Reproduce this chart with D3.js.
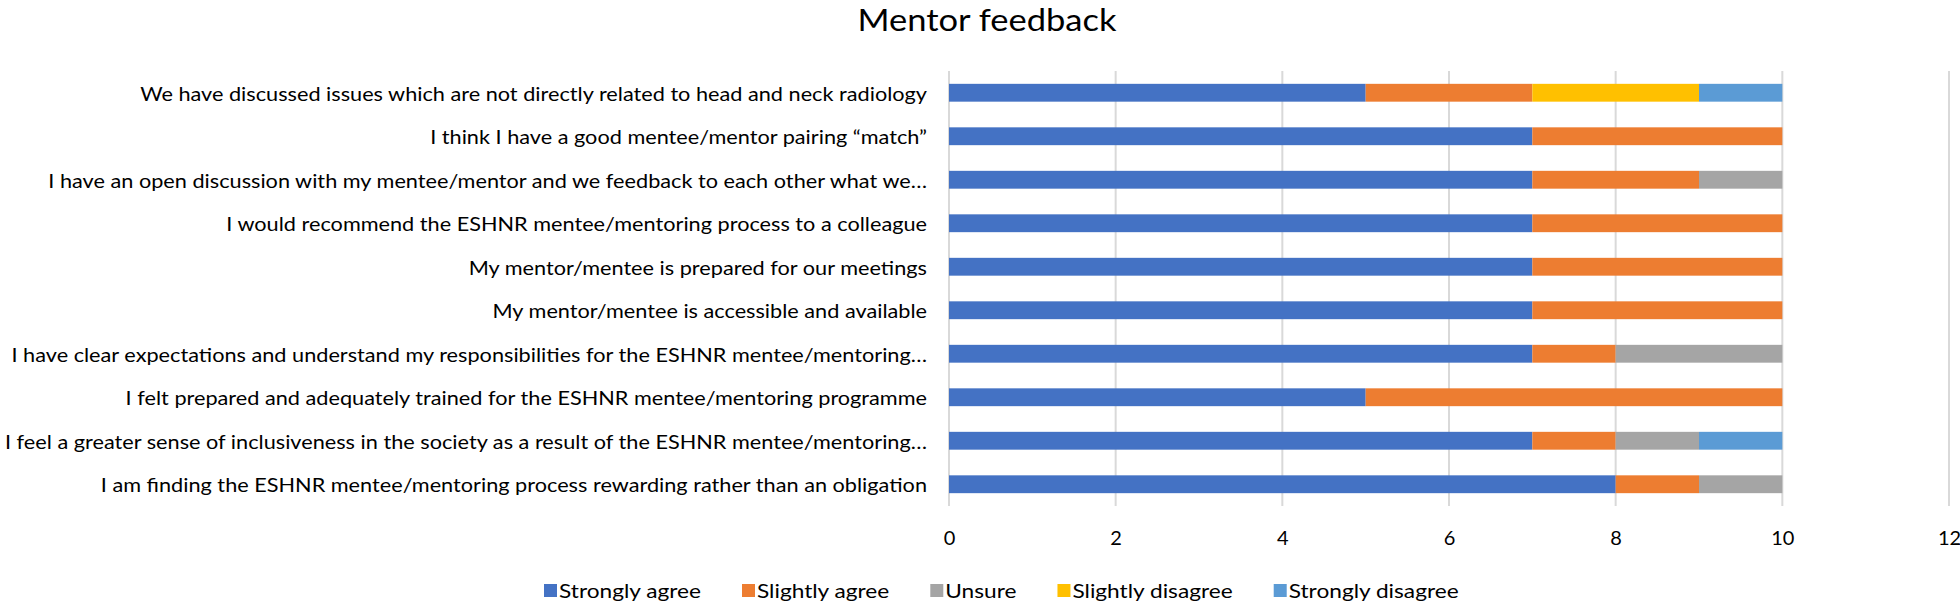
<!DOCTYPE html>
<html>
<head>
<meta charset="utf-8">
<script src="https://cdn.jsdelivr.net/npm/d3@7"></script>
<style>
  body { margin: 0; background: #fff; }
  svg { display: block; }
  text { font-family: Lato, "Open Sans", "Noto Sans", sans-serif; fill: #000; }
</style>
</head>
<body>
<svg id="svg" width="1960" height="604"></svg>
<script>
const categories = [
    "We have discussed issues which are not directly related to head and neck radiology",
    "I think I have a good mentee/mentor pairing \u201cmatch\u201d",
    "I have an open discussion with my mentee/mentor and we feedback to each other what we\u2026",
    "I would recommend the ESHNR mentee/mentoring process to a colleague",
    "My mentor/mentee is prepared for our meetings",
    "My mentor/mentee is accessible and available",
    "I have clear expectations and understand my responsibilities for the ESHNR mentee/mentoring\u2026",
    "I felt prepared and adequately trained for the ESHNR mentee/mentoring programme",
    "I feel a greater sense of inclusiveness in the society as a result of the ESHNR mentee/mentoring\u2026",
    "I am finding the ESHNR mentee/mentoring process rewarding rather than an obligation"
];
const seriesNames = ["Strongly agree", "Slightly agree", "Unsure", "Slightly disagree", "Strongly disagree"];
const stronglyAgree    = [5, 7, 7, 7, 7, 7, 7, 5, 7, 8];
const slightlyAgree    = [2, 3, 2, 3, 3, 3, 1, 5, 1, 1];
const unsure           = [0, 0, 1, 0, 0, 0, 2, 0, 1, 1];
const slightlyDisagree = [2, 0, 0, 0, 0, 0, 0, 0, 0, 0];
const stronglyDisagree = [1, 0, 0, 0, 0, 0, 0, 0, 1, 0];
const xTicks = [0, 2, 4, 6, 8, 10, 12];
const colors = ["#4472C4", "#ED7D31", "#A5A5A5", "#FFC000", "#5B9BD5"];

const svg = d3.select("#svg");
const plot = {left: 949, right: 1949, top: 71, bottom: 506};
const fontSize = 20;

// build table for the stack
const table = categories.map((c, i) => ({
    cat: c,
    "Strongly agree": stronglyAgree[i],
    "Slightly agree": slightlyAgree[i],
    "Unsure": unsure[i],
    "Slightly disagree": slightlyDisagree[i],
    "Strongly disagree": stronglyDisagree[i]
}));
const stacked = d3.stack().keys(seriesNames)(table);

const xScale = d3.scaleLinear().domain([0, 12]).range([plot.left, plot.right]);
const yScale = d3.scaleBand().domain(categories).range([plot.top, plot.bottom])
    .paddingInner(0.59).paddingOuter(0.295);
const color = d3.scaleOrdinal().domain(seriesNames).range(colors);

// the original font has other widths, so stretch text to fit
function measure(str, size) {
    const t = svg.append("text").style("font-size", size + "px").text(str);
    const w = t.node().getComputedTextLength();
    t.remove();
    return w;
}
const longest = d3.max(categories, c => measure(c, fontSize));
const squeeze = 922 / longest;
const legendStretch = 142 / measure(seriesNames[0], fontSize);
function narrow(sel, k) {
    sel.each(function() {
        const w = this.getComputedTextLength();
        d3.select(this).attr("textLength", w * k).attr("lengthAdjust", "spacingAndGlyphs");
    });
}

// title
svg.append("text")
    .attr("x", 987).attr("y", 19)
    .attr("text-anchor", "middle")
    .attr("dominant-baseline", "central")
    .style("font-size", "31px")
    .text("Mentor feedback")
    .attr("textLength", 259)
    .attr("lengthAdjust", "spacingAndGlyphs");

// gridlines
svg.append("g").selectAll("line")
    .data(xTicks)
    .join("line")
    .attr("x1", d => xScale(d)).attr("x2", d => xScale(d))
    .attr("y1", plot.top).attr("y2", plot.bottom)
    .attr("stroke", "#D9D9D9")
    .attr("stroke-width", 2);

// bars
svg.append("g").selectAll("g")
    .data(stacked)
    .join("g")
    .attr("fill", d => color(d.key))
    .selectAll("rect")
    .data(d => d.filter(s => s[1] > s[0]))
    .join("rect")
    .attr("x", d => xScale(d[0]))
    .attr("width", d => xScale(d[1]) - xScale(d[0]))
    .attr("y", d => yScale(d.data.cat))
    .attr("height", yScale.bandwidth());

// category labels
svg.append("g").selectAll("text")
    .data(categories)
    .join("text")
    .attr("x", plot.left - 22)
    .attr("y", d => yScale(d) + yScale.bandwidth() / 2)
    .attr("text-anchor", "end")
    .attr("dominant-baseline", "central")
    .style("font-size", fontSize + "px")
    .text(d => d)
    .call(narrow, squeeze);

// x axis labels
const xAxisCall = d3.axisBottom(xScale).tickValues(xTicks).tickSize(0).tickPadding(0);
const xAxis = svg.append("g")
    .attr("transform", "translate(0,537)")
    .call(xAxisCall);
xAxis.select(".domain").remove();
xAxis.attr("font-family", null).attr("font-size", null);
xAxis.selectAll("text")
    .attr("y", 0).attr("dy", null)
    .attr("dominant-baseline", "central")
    .style("font-size", fontSize + "px")
    .attr("fill", "#000");

// legend
const legend = svg.append("g");
let lx = 544;
seriesNames.forEach((name, i) => {
    legend.append("rect")
        .attr("x", lx).attr("y", 584)
        .attr("width", 13).attr("height", 13)
        .attr("fill", colors[i]);
    const t = legend.append("text")
        .attr("x", lx + 15).attr("y", 590)
        .attr("dominant-baseline", "central")
        .style("font-size", fontSize + "px")
        .text(name);
    const w = t.node().getComputedTextLength() * legendStretch;
    t.call(narrow, legendStretch);
    lx += 15 + w + 41;
});
</script>
</body>
</html>
